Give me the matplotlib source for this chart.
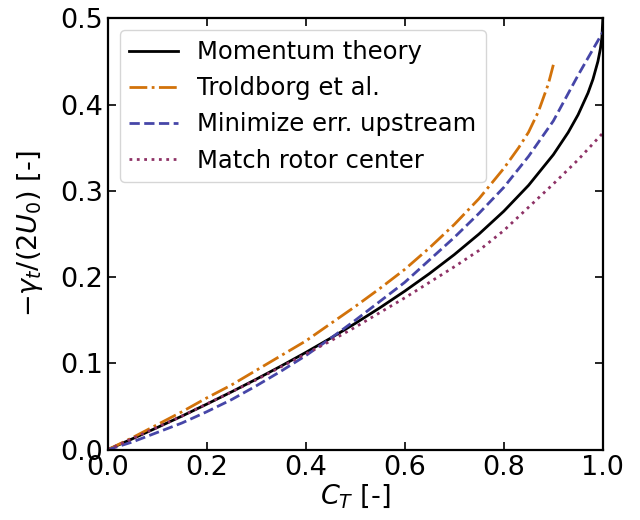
"""Tip-vortex strength vs thrust coefficient for four models."""

import matplotlib

matplotlib.use("Agg")

import matplotlib.pyplot as plt

# values
CT_MOMENTUM = [0.0, 0.05, 0.1, 0.15, 0.2, 0.25, 0.3, 0.35, 0.4, 0.45, 0.5, 0.55, 0.6,
               0.65, 0.7, 0.75, 0.8, 0.85, 0.9, 0.93, 0.95, 0.97, 0.98, 0.99, 0.995,
               0.998, 1.0]
GAMMA_MOMENTUM = [0.0, 0.0127, 0.0257, 0.039, 0.0528, 0.067, 0.0817, 0.0969, 0.1127,
                  0.1292, 0.1464, 0.1646, 0.1838, 0.2042, 0.2261, 0.25, 0.2764, 0.3064,
                  0.3419, 0.3677, 0.3882, 0.4134, 0.4293, 0.45, 0.4646, 0.4776, 0.5]

CT_TROLDBORG = [0.0, 0.05, 0.1, 0.15, 0.2, 0.25, 0.3, 0.35, 0.4, 0.45, 0.5, 0.55, 0.6,
                0.65, 0.7, 0.75, 0.8, 0.83, 0.85, 0.87, 0.89, 0.9]
GAMMA_TROLDBORG = [0.0, 0.014, 0.029, 0.044, 0.060, 0.075, 0.092, 0.109, 0.126, 0.146,
                   0.166, 0.187, 0.209, 0.234, 0.261, 0.291, 0.326, 0.350, 0.368,
                   0.392, 0.424, 0.446]

CT_UPSTREAM = [0.0, 0.05, 0.1, 0.15, 0.2, 0.25, 0.3, 0.35, 0.4, 0.45, 0.5, 0.55, 0.6,
               0.65, 0.7, 0.75, 0.8, 0.85, 0.9, 0.95, 1.0]
GAMMA_UPSTREAM = [0.0, 0.009, 0.020, 0.031, 0.044, 0.058, 0.074, 0.091, 0.109, 0.129,
                  0.150, 0.172, 0.194, 0.220, 0.246, 0.274, 0.304, 0.340, 0.381, 0.434,
                  0.484]

CT_CENTER = [0.0, 0.05, 0.1, 0.15, 0.2, 0.25, 0.3, 0.35, 0.4, 0.45, 0.5, 0.55, 0.6,
             0.65, 0.7, 0.75, 0.8, 0.85, 0.9, 0.95, 1.0]
GAMMA_CENTER = [0.0, 0.013, 0.026, 0.039, 0.053, 0.067, 0.081, 0.096, 0.111, 0.126,
                0.142, 0.159, 0.176, 0.194, 0.212, 0.231, 0.254, 0.281, 0.308, 0.336,
                0.367]


def main() -> None:
    plt.rcParams["font.size"] = 19.5
    plt.rcParams["mathtext.fontset"] = "dejavusans"

    fig = plt.figure(figsize=(6.4, 5.2), dpi=100)
    ax = fig.add_axes([0.168, 0.135, 0.774, 0.83])

    ax.plot(CT_MOMENTUM, GAMMA_MOMENTUM, "-", color="black", lw=2, label="Momentum theory")
    ax.plot(CT_TROLDBORG, GAMMA_TROLDBORG, "-.", color="#d2720a", lw=2, label="Troldborg et al.")
    ax.plot(CT_UPSTREAM, GAMMA_UPSTREAM, "--", color="#4646a8", lw=2, label="Minimize err. upstream")
    ax.plot(CT_CENTER, GAMMA_CENTER, ":", color="#8e3266", lw=2, label="Match rotor center")

    ax.set_xlim(0, 1)
    ax.set_ylim(0, 0.5)
    ax.set_xticks([0, 0.2, 0.4, 0.6, 0.8, 1.0])
    ax.set_yticks([0, 0.1, 0.2, 0.3, 0.4, 0.5])
    ax.tick_params(direction="in", top=True, right=True, length=6, width=1.2, labelsize=19.5)
    for spine in ax.spines.values():
        spine.set_linewidth(1.6)

    ax.set_xlabel(r"$C_T$ [-]", fontsize=19.5, labelpad=1)
    ax.set_ylabel(r"$-\gamma_t/(2U_0)$ [-]", fontsize=19.5, labelpad=11)
    ax.legend(loc="upper left", fontsize=17.5, borderaxespad=0.5)

    fig.savefig("out.png", dpi=100)
    plt.close(fig)


if __name__ == "__main__":
    main()
